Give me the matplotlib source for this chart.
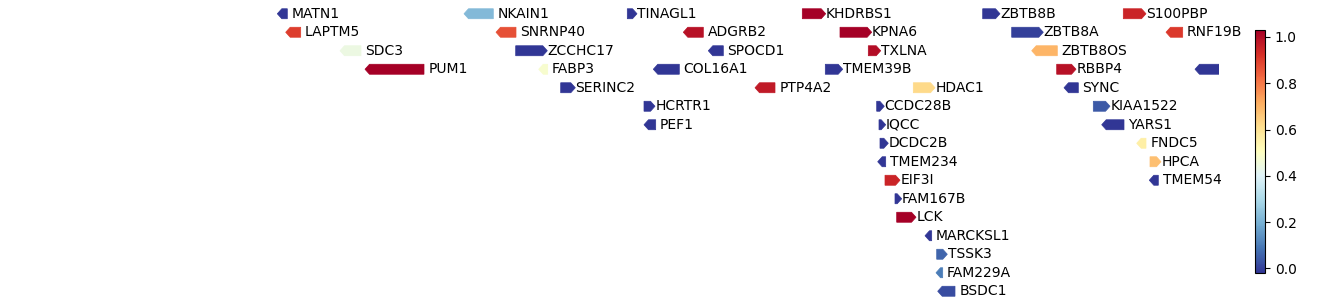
import matplotlib
matplotlib.use("Agg")
import matplotlib.pyplot as plt
from matplotlib.patches import Polygon
from matplotlib.colors import Normalize
from matplotlib.cm import ScalarMappable

# ---- data (positions in region units) ----
genes = ["MATN1", "NKAIN1", "TINAGL1", "KHDRBS1", "ZBTB8B", "S100PBP",
         "LAPTM5", "SNRNP40", "ADGRB2", "KPNA6", "ZBTB8A", "RNF19B",
         "SDC3", "ZCCHC17", "SPOCD1", "TXLNA", "ZBTB8OS",
         "PUM1", "FABP3", "COL16A1", "TMEM39B", "RBBP4", "AK2",
         "SERINC2", "PTP4A2", "HDAC1", "SYNC",
         "HCRTR1", "CCDC28B", "KIAA1522",
         "PEF1", "IQCC", "YARS1",
         "DCDC2B", "FNDC5",
         "TMEM234", "HPCA",
         "EIF3I", "TMEM54",
         "FAM167B", "LCK", "MARCKSL1", "TSSK3", "FAM229A", "BSDC1"]
rows = [0, 0, 0, 0, 0, 0,
        1, 1, 1, 1, 1, 1,
        2, 2, 2, 2, 2,
        3, 3, 3, 3, 3, 3,
        4, 4, 4, 4,
        5, 5, 5,
        6, 6, 6,
        7, 7,
        8, 8,
        9, 9,
        10, 11, 12, 13, 14, 15]
starts = [0.3, 187.0, 350.3, 525.3, 705.7, 846.3,
          8.7, 219.0, 406.3, 563.0, 734.7, 889.0,
          63.0, 238.7, 431.3, 591.3, 754.7,
          88.0, 261.7, 376.3, 548.3, 779.7, 918.0,
          283.7, 478.0, 636.3, 787.0,
          367.0, 599.7, 816.3,
          367.0, 602.0, 824.7,
          603.0, 859.7,
          600.7, 873.0,
          608.0, 872.3,
          618.0, 619.7, 648.0, 659.7, 659.0, 660.7]
ends = [10.3, 216.3, 360.0, 548.7, 723.0, 869.0,
        23.7, 239.0, 426.3, 594.7, 766.3, 905.7,
        84.0, 270.3, 446.3, 603.7, 780.3,
        147.0, 270.7, 402.3, 565.7, 799.0, 942.0,
        298.3, 498.0, 658.0, 801.3,
        378.0, 607.3, 833.0,
        378.7, 608.7, 847.0,
        611.3, 869.0,
        608.7, 884.0,
        623.0, 881.3,
        624.7, 639.0, 654.7, 670.3, 665.7, 678.0]
strands = ["-", "-", "+", "+", "+", "+",
           "-", "-", "-", "+", "+", "-",
           "-", "+", "-", "+", "-",
           "-", "-", "-", "+", "+", "-",
           "+", "-", "+", "-",
           "+", "+", "+",
           "-", "+", "-",
           "+", "-",
           "-", "+",
           "+", "-",
           "+", "+", "-", "+", "-", "-"]
scores = [-0.02, 0.22, -0.02, 1.03, -0.02, 0.95,
          0.90, 0.87, 0.99, 1.03, 0.0, 0.91,
          0.44, -0.02, -0.02, 1.0, 0.70,
          1.03, 0.48, -0.02, -0.02, 0.99, -0.02,
          -0.02, 0.97, 0.62, -0.02,
          -0.02, -0.02, 0.04,
          -0.02, -0.02, -0.02,
          -0.02, 0.56,
          -0.02, 0.68,
          0.95, -0.02,
          -0.02, 1.03, -0.02, 0.06, 0.10, 0.02]
region = (0.0, 942.0)
cbar_ticks = [0.0, 0.2, 0.4, 0.6, 0.8, 1.0]

# ---- figure ----
W, H = 1338, 305
fig = plt.figure(figsize=(W / 100, H / 100), dpi=100)
ax = fig.add_axes([277 / W, (H - 300.5) / H, 942 / W, 296 / H])
ax.set_xlim(*region)
ax.set_ylim(15.5, -0.5)
ax.axis("off")

cmap = plt.get_cmap("RdYlBu_r")
norm = Normalize(vmin=min(scores), vmax=max(scores))

half_h = 0.27
head = 4.5
for name, r, s, e, st, v in zip(genes, rows, starts, ends, strands, scores):
    col = cmap(norm(v))
    hl = min(head, e - s)
    if st == "+":
        pts = [(s, r - half_h), (e - hl, r - half_h), (e, r),
               (e - hl, r + half_h), (s, r + half_h)]
        tx = e + 0.3
    else:
        pts = [(e, r - half_h), (s + hl, r - half_h), (s, r),
               (s + hl, r + half_h), (e, r + half_h)]
        tx = e + 4.3
    ax.add_patch(Polygon(pts, closed=True, facecolor=col, edgecolor=col,
                         linewidth=0.5))
    if e < region[1]:
        ax.text(tx, r, name, ha="left", va="center", fontsize=10,
                color="black", clip_on=False)

cax = fig.add_axes([1255 / W, (H - 273) / H, 10 / W, 243 / H])
sm = ScalarMappable(norm=norm, cmap=cmap)
cb = fig.colorbar(sm, cax=cax, ticks=cbar_ticks)
cb.ax.tick_params(labelsize=10)
cb.outline.set_linewidth(0.8)

fig.savefig("out.png", dpi=100)
